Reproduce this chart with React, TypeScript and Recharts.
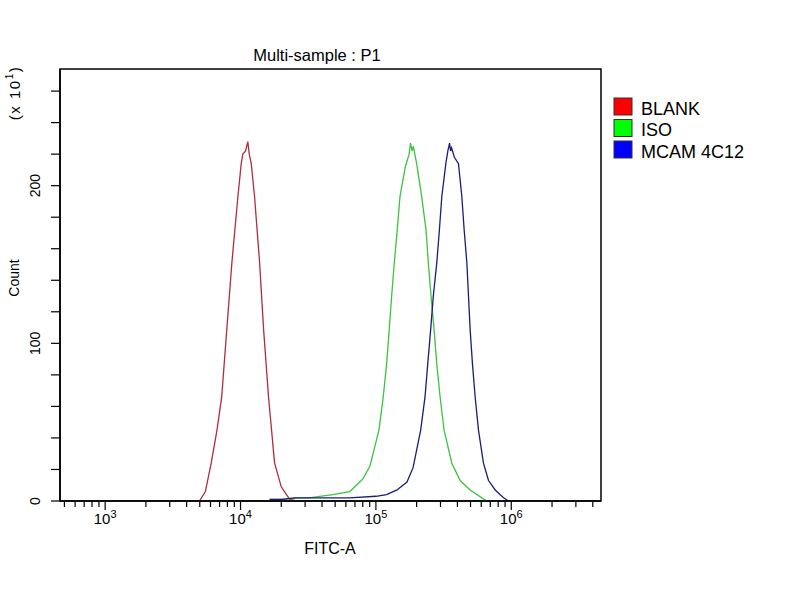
import { LineChart, Line, XAxis, YAxis, ReferenceArea } from 'recharts';

// FITC-A value, count (x10^1)
const blankPoints = [
    [4970, 0], [5500, 6], [6070, 24], [6700, 45], [7260, 66], [7920, 109], [8630, 151],
    [9560, 193], [10120, 214], [10400, 220], [10900, 222], [11320, 228], [11600, 220],
    [12000, 214], [12700, 193], [13840, 151], [14800, 109], [16100, 66], [17850, 24],
    [20000, 9], [23070, 1], [26000, 0],
];

const isoPoints = [
    [16400, 1], [21000, 1], [27350, 2], [32000, 2], [38460, 3], [48000, 4], [64200, 6],
    [80200, 14], [90300, 22], [105300, 45], [113300, 66], [120000, 87], [125500, 109],
    [130700, 130], [136700, 151], [143800, 172], [150600, 193], [165000, 212], [176000, 220],
    [180000, 227], [185000, 222], [189000, 225], [200000, 214], [217900, 193], [234600, 172],
    [243900, 151], [255400, 130], [268900, 109], [281600, 87], [298000, 66], [319000, 45],
    [363700, 24], [419300, 13], [496600, 7], [606300, 2], [660600, 0],
];

const mcamPoints = [
    [16400, 1], [20000, 1], [25000, 2], [40000, 2], [64200, 2], [100000, 3], [120000, 4],
    [143200, 7], [169600, 12], [188000, 21], [214200, 45], [230600, 66], [241500, 87],
    [254000, 109], [265500, 130], [281600, 151], [294500, 172], [306700, 193], [328500, 214],
    [340000, 222], [350000, 227], [356000, 222], [362000, 224], [380000, 218], [407300, 214],
    [431500, 193], [448600, 172], [469900, 151], [483000, 130], [496600, 109], [516700, 87],
    [541000, 66], [572400, 45], [623000, 24], [679000, 13], [760900, 7], [876700, 2], [955300, 0],
];

const series = [
    { name: 'BLANK', points: blankPoints, line: '#ac2f3c', swatch: '#ff0000' },
    { name: 'ISO', points: isoPoints, line: '#3cc440', swatch: '#00ff00' },
    { name: 'MCAM 4C12', points: mcamPoints, line: '#1c1c78', swatch: '#0000ff' },
];

const xTicks = [
    500, 600, 700, 800, 900,
    1000, 2000, 3000, 4000, 5000, 6000, 7000, 8000, 9000,
    10000, 20000, 30000, 40000, 50000, 60000, 70000, 80000, 90000,
    100000, 200000, 300000, 400000, 500000, 600000, 700000, 800000, 900000,
    1000000, 2000000, 3000000, 4000000,
];
const yTicks = [0, 20, 40, 60, 80, 100, 120, 140, 160, 180, 200, 220, 240, 260];
const yLabels = [0, 100, 200];

const X_MIN = 464;
const X_MAX = 4600000;
const Y_MAX = 274;
const FONT = '"Liberation Sans", Arial, sans-serif';

function FitcTick(props: any) {
    const { x, y, payload } = props;
    const lg = Math.log10(payload.value);
    const exp = Math.round(lg);
    const major = Math.abs(lg - exp) < 1e-6;
    return (
        <g>
            <line x1={x} x2={x} y1={y} y2={y + (major ? 9 : 6)} stroke="#000" strokeWidth={1.2} />
            {major && (
                <text x={x} y={y + 23} textAnchor="middle" fontSize={15} fill="#000" fontFamily={FONT}>
                    <tspan>10</tspan>
                    <tspan dy={-6} fontSize={11}>{exp}</tspan>
                </text>
            )}
        </g>
    );
}

function CountTick(props: any) {
    const { x, y, payload } = props;
    const lx = x - 25;
    return (
        <g>
            <line x1={x - 9} x2={x} y1={y} y2={y} stroke="#000" strokeWidth={1.2} />
            {yLabels.includes(payload.value) && (
                <text x={lx} y={y} transform={`rotate(-90 ${lx} ${y})`} textAnchor="middle" dominantBaseline="central"
                    fontSize={14} fill="#000" fontFamily={FONT}>
                    {payload.value}
                </text>
            )}
        </g>
    );
}

export default function App() {
    return (
        <div style={{ position: 'absolute', left: 0, top: 0, width: 800, height: 600, background: '#fff' }}>
            <LineChart width={800} height={600} margin={{ top: 69, right: 199, bottom: 0, left: 0 }}>
                <XAxis type="number" dataKey="fitc" scale="log" domain={[X_MIN, X_MAX]} allowDataOverflow
                    ticks={xTicks} interval={0} height={99} tickSize={0} tickMargin={0}
                    axisLine={{ stroke: '#000', strokeWidth: 1.5 }} tickLine={false} tick={(p: any) => <FitcTick {...p} />} />
                <YAxis type="number" domain={[0, Y_MAX]} allowDataOverflow ticks={yTicks} interval={0}
                    width={60} tickSize={0} tickMargin={0}
                    axisLine={{ stroke: '#000', strokeWidth: 1.5 }} tickLine={false} tick={(p: any) => <CountTick {...p} />} />
                <ReferenceArea x1={X_MIN} x2={X_MAX} y1={0} y2={Y_MAX} fill="none" stroke="#000" strokeWidth={1.5} />
                {series.map((s) => (
                    <Line key={s.name} data={s.points.map(([fitc, count]) => ({ fitc, count }))} dataKey="count"
                        name={s.name} type="linear" stroke={s.line} strokeWidth={1.3} dot={false} isAnimationActive={false} />
                ))}
            </LineChart>
            <svg width={800} height={600} style={{ position: 'absolute', left: 0, top: 0, pointerEvents: 'none' }}
                fontFamily={FONT}>
                <text x={317} y={61} textAnchor="middle" fontSize={16.5}>Multi-sample : P1</text>
                <text x={330} y={554} textAnchor="middle" fontSize={16}>FITC-A</text>
                <text x={14} y={278} transform="rotate(-90 14 278)" textAnchor="middle" dominantBaseline="central" fontSize={14}>Count</text>
                <text x={14} y={93} transform="rotate(-90 14 93)" textAnchor="middle" dominantBaseline="central" fontSize={15}
                    letterSpacing={1.5}>
                    <tspan>(x 10</tspan>
                    <tspan dy={-5} fontSize={10}>1</tspan>
                    <tspan dy={5}>)</tspan>
                </text>
                {series.map((s, i) => (
                    <g key={s.name}>
                        <rect x={614} y={98 + i * 21.5} width={18} height={17} fill={s.swatch} stroke="#333" strokeWidth={1} />
                        <text x={641} y={114.5 + i * 21.5} fontSize={18}>{s.name}</text>
                    </g>
                ))}
            </svg>
        </div>
    );
}
